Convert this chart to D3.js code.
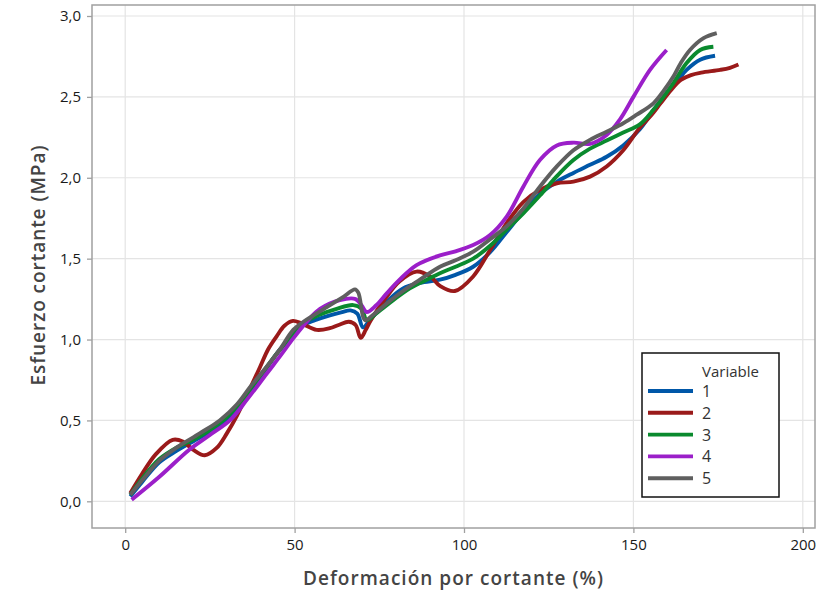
<!DOCTYPE html>
<html><head><meta charset="utf-8">
<script src="https://cdn.jsdelivr.net/npm/d3@7"></script>
<style>body{margin:0;background:#fff;}svg{display:block;font-family:"Open Sans","Noto Sans",sans-serif;}</style>
</head><body>
<svg id="c" width="823" height="594"></svg>
<script>
const seriesNames = ["1","2","3","4","5"];
const seriesColors = ["#0057a8","#9a1a1a","#0a8a2e","#9b1fc9","#5f5f5f"];
const xTicks = [0,50,100,150,200];
const yTicks = [0,0.5,1.0,1.5,2.0,2.5,3.0];

const s1 = [[1.5,0.03],[5,0.12],[10,0.24],[15,0.31],[20,0.37],[25,0.43],[30,0.50],[35,0.62],[40,0.77],[45,0.92],[50,1.04],[52.6,1.09],[56,1.12],[60.4,1.15],[64,1.17],[66.5,1.18],[68.5,1.16],[70.2,1.075],[72.2,1.12],[77,1.23],[82,1.316],[87,1.35],[92.9,1.37],[97.5,1.40],[102.7,1.45],[107.7,1.54],[112.6,1.665],[117.5,1.79],[122.4,1.90],[127.4,1.975],[132.3,2.03],[137.2,2.08],[142.1,2.13],[147,2.20],[151.9,2.30],[156,2.42],[159.8,2.523],[163,2.60],[165.7,2.667],[169.7,2.73],[174.1,2.754]];
const s2 = [[1.5,0.05],[5,0.17],[9,0.29],[14,0.38],[17,0.37],[20,0.32],[23.5,0.285],[27,0.33],[30,0.42],[33,0.53],[36,0.66],[39.8,0.83],[42.2,0.94],[44.7,1.02],[47,1.085],[49.5,1.115],[52,1.10],[56.5,1.06],[60.4,1.07],[63,1.09],[66,1.11],[68,1.09],[69.5,1.01],[71,1.06],[72.5,1.12],[77,1.26],[81,1.36],[86,1.42],[90,1.39],[93,1.33],[97.3,1.30],[102.7,1.39],[107.7,1.553],[112.6,1.72],[117.5,1.85],[122.4,1.925],[127.4,1.966],[132.3,1.976],[137.2,2.007],[142.1,2.07],[147,2.17],[151.9,2.31],[155,2.38],[158,2.46],[161,2.54],[164,2.605],[167,2.635],[170,2.65],[175.6,2.667],[178.5,2.68],[181,2.70]];
const s3 = [[1.5,0.04],[5,0.14],[10,0.26],[15,0.33],[20,0.38],[25,0.44],[30,0.52],[35,0.64],[40,0.78],[45,0.92],[50,1.04],[52.6,1.10],[57,1.15],[62.4,1.19],[67.3,1.213],[69.8,1.19],[71.3,1.12],[74,1.16],[77.2,1.213],[84,1.316],[89,1.37],[92.9,1.41],[97.5,1.45],[102.7,1.50],[107.7,1.58],[112.6,1.68],[117.5,1.78],[122.4,1.89],[127.4,2.01],[132.3,2.11],[137.2,2.18],[142.1,2.23],[147,2.28],[151.9,2.33],[155.9,2.42],[158.5,2.49],[161.8,2.585],[165.7,2.709],[169.7,2.79],[173.6,2.81]];
const s4 = [[1.9,0.01],[10,0.15],[19,0.32],[25,0.41],[30.9,0.50],[36,0.63],[41.8,0.79],[46,0.905],[49.6,1.007],[54,1.12],[57.5,1.19],[63.4,1.244],[68,1.25],[69.8,1.21],[71.3,1.17],[74,1.21],[77.2,1.285],[81,1.37],[86,1.46],[92.9,1.52],[97.5,1.545],[102.7,1.584],[107.7,1.646],[112.6,1.76],[117.5,1.945],[122.4,2.11],[127.4,2.20],[132.3,2.217],[137.2,2.21],[142.1,2.265],[146,2.36],[150,2.50],[154.9,2.667],[159.8,2.79]];
const s5 = [[1.5,0.04],[5,0.13],[10,0.25],[15,0.33],[22,0.42],[27.9,0.50],[33,0.60],[37,0.71],[41.7,0.83],[45.7,0.94],[49.6,1.06],[52.6,1.11],[59.5,1.20],[64.4,1.264],[67.8,1.31],[68.8,1.29],[70.8,1.12],[73,1.15],[77.2,1.223],[82,1.30],[87,1.37],[92.9,1.45],[97.5,1.49],[102.7,1.543],[107.7,1.62],[112.6,1.70],[117.5,1.81],[122.4,1.945],[127.4,2.07],[132.3,2.17],[137.2,2.234],[142.1,2.285],[147,2.337],[151,2.39],[155.9,2.46],[159,2.54],[161.8,2.626],[164,2.71],[166.7,2.79],[170.7,2.863],[174.6,2.894]];
const seriesData = [s1,s2,s3,s4,s5];

const svg = d3.select("#c");
const L=92, R=815, T=5, B=528;
const x = d3.scaleLinear().domain([-9.8,203.6]).range([L,R]);
const y = d3.scaleLinear().domain([-0.165,3.068]).range([B,T]);
const fmt = d => d3.format(".1f")(d).replace(".",",");

// gridlines
svg.append("g").selectAll("line").data(xTicks).join("line")
  .attr("x1",d=>x(d)).attr("x2",d=>x(d)).attr("y1",T).attr("y2",B)
  .attr("stroke","#e4e4e4").attr("stroke-width",1.2);
svg.append("g").selectAll("line").data(yTicks).join("line")
  .attr("x1",L).attr("x2",R).attr("y1",d=>y(d)).attr("y2",d=>y(d))
  .attr("stroke","#e4e4e4").attr("stroke-width",1.2);

// frame
svg.append("rect").attr("x",L).attr("y",T).attr("width",R-L).attr("height",B-T)
  .attr("fill","none").attr("stroke","#a0a0a0").attr("stroke-width",1.5);

// axes
const xAxis = svg.append("g").attr("transform",`translate(0,${B})`)
  .call(d3.axisBottom(x).tickValues(xTicks).tickSize(5).tickPadding(6).tickFormat(d3.format("d")));
const yAxis = svg.append("g").attr("transform",`translate(${L},0)`)
  .call(d3.axisLeft(y).tickValues(yTicks).tickSize(5).tickPadding(6).tickFormat(fmt));
[xAxis,yAxis].forEach(a=>{
  a.select(".domain").remove();
  a.selectAll(".tick line").attr("stroke","#a0a0a0").attr("stroke-width",1.3);
  a.selectAll(".tick text").attr("fill","#1a1a1a").style("font-size","15px").style("font-family","'Open Sans',sans-serif");
});

// lines
const line = d3.line().x(d=>x(d[0])).y(d=>y(d[1])).curve(d3.curveCatmullRom.alpha(0.5));
svg.append("g").selectAll("path").data(seriesData).join("path")
  .attr("d",line).attr("fill","none")
  .attr("stroke",(d,i)=>seriesColors[i]).attr("stroke-width",3.9)
  .attr("stroke-linejoin","round").attr("stroke-linecap","butt");

// axis titles
svg.append("text").attr("x",453).attr("y",585).attr("text-anchor","middle")
  .attr("fill","#444").style("font-size","19px").style("font-weight","600")
  .attr("textLength",300).attr("lengthAdjust","spacing")
  .text("Deformación por cortante (%)");
svg.append("text").attr("transform","translate(45,265.5) rotate(-90)").attr("text-anchor","middle")
  .attr("fill","#444").style("font-size","19px").style("font-weight","600")
  .attr("textLength",240).attr("lengthAdjust","spacing")
  .text("Esfuerzo cortante (MPa)");

// legend
const lg = svg.append("g");
lg.append("rect").attr("x",642).attr("y",353).attr("width",137).attr("height",144)
  .attr("fill","#fff").attr("stroke","#111").attr("stroke-width",1.5);
lg.append("text").attr("x",702).attr("y",377).attr("fill","#333").style("font-size","15px").text("Variable");
const items = lg.selectAll("g.it").data(seriesNames).join("g").attr("class","it")
  .attr("transform",(d,i)=>`translate(0,${391+i*21.8})`);
items.append("line").attr("x1",648).attr("x2",693).attr("y1",0).attr("y2",0)
  .attr("stroke",(d,i)=>seriesColors[i]).attr("stroke-width",3.9);
items.append("text").attr("x",702).attr("y",6).attr("fill","#333").style("font-size","16px").text(d=>d);
</script>
</body></html>
